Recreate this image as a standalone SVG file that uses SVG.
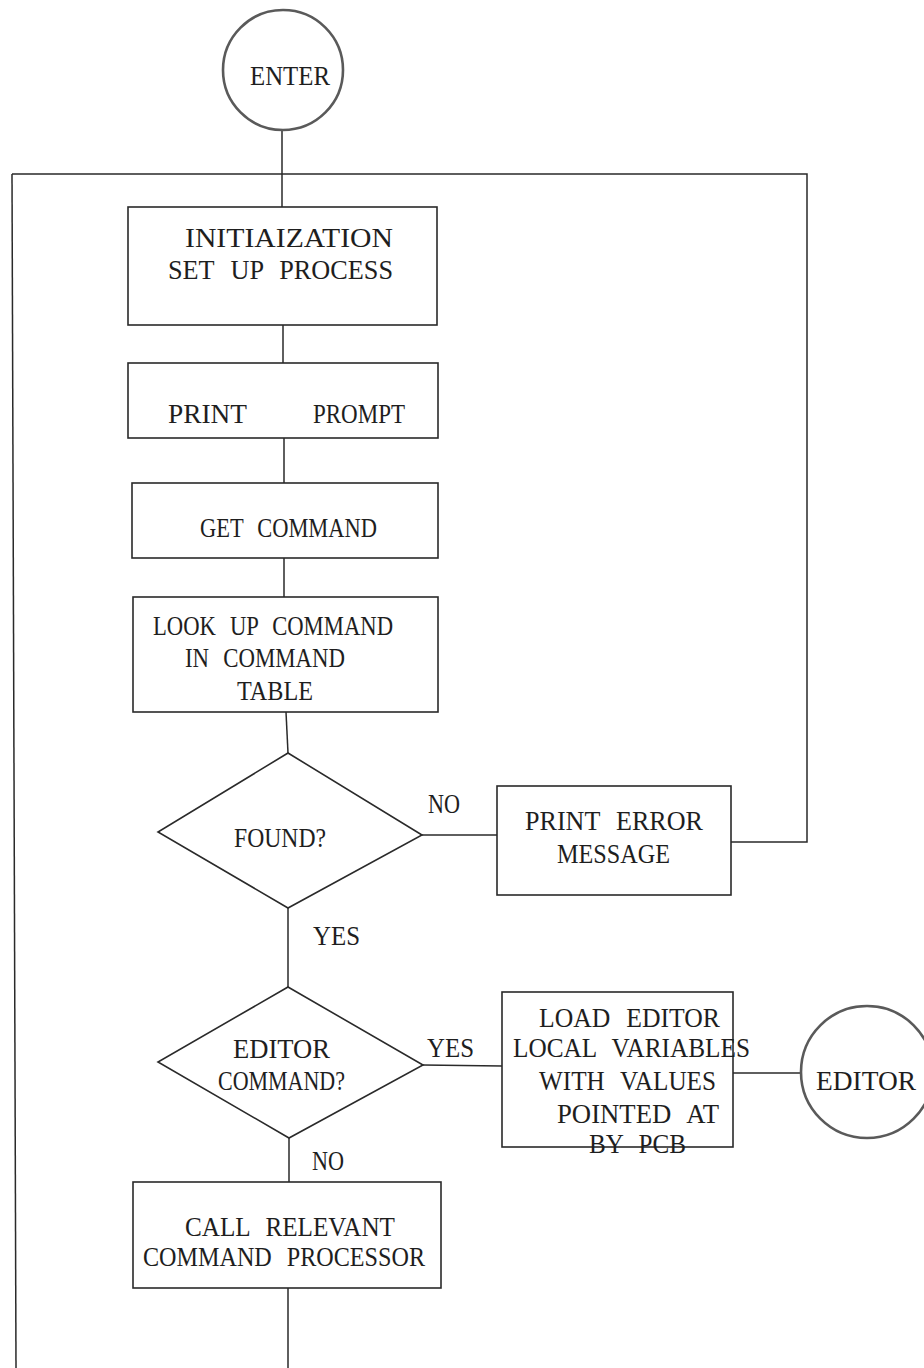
<svg xmlns="http://www.w3.org/2000/svg" width="924" height="1368" viewBox="0 0 924 1368">
<style>
.box{fill:none;stroke:#2a2a2a;stroke-width:1.6}
.term{fill:none;stroke:#5a5a5a;stroke-width:2.6}
.ln{fill:none;stroke:#2a2a2a;stroke-width:1.5}
text{font-family:"Liberation Serif","DejaVu Serif",serif;font-size:27px;word-spacing:10px;fill:#1e1e1e}
</style>
<rect width="924" height="1368" fill="#fff"/>
<g id="connectors">
<polyline class="ln" points="282,130 282,207"/>
<polyline class="ln" points="12,174 807,174 807,842 731,842"/>
<polyline class="ln" points="12,174 16,1368"/>
<polyline class="ln" points="283,325 283,363"/>
<polyline class="ln" points="284,438 284,483"/>
<polyline class="ln" points="284,558 284,597"/>
<polyline class="ln" points="286,712 288,753"/>
<polyline class="ln" points="422,835 497,835"/>
<polyline class="ln" points="288,908 288,987"/>
<polyline class="ln" points="423,1065 502,1066"/>
<polyline class="ln" points="733,1073 801,1073"/>
<polyline class="ln" points="289,1138 289,1182"/>
<polyline class="ln" points="288,1288 288,1368"/>
<text x="428" y="813" textLength="32" lengthAdjust="spacingAndGlyphs">NO</text>
<text x="313" y="945" textLength="47" lengthAdjust="spacingAndGlyphs">YES</text>
<text x="427" y="1057" textLength="47" lengthAdjust="spacingAndGlyphs">YES</text>
<text x="312" y="1170" textLength="32" lengthAdjust="spacingAndGlyphs">NO</text>
</g>
<g id="enter">
<circle class="term" cx="283" cy="70" r="60"/>
<text x="250" y="85" textLength="80" lengthAdjust="spacingAndGlyphs">ENTER</text>
</g>
<g id="init">
<rect class="box" x="128" y="207" width="309" height="118"/>
<text x="185" y="247" textLength="208" lengthAdjust="spacingAndGlyphs">INITIAIZATION</text>
<text x="168" y="279" textLength="225" lengthAdjust="spacingAndGlyphs">SET UP PROCESS</text>
</g>
<g id="prompt">
<rect class="box" x="128" y="363" width="310" height="75"/>
<text x="168" y="423" textLength="79" lengthAdjust="spacingAndGlyphs">PRINT</text>
<text x="313" y="423" textLength="92" lengthAdjust="spacingAndGlyphs">PROMPT</text>
</g>
<g id="getcmd">
<rect class="box" x="132" y="483" width="306" height="75"/>
<text x="200" y="537" textLength="177" lengthAdjust="spacingAndGlyphs">GET COMMAND</text>
</g>
<g id="lookup">
<rect class="box" x="133" y="597" width="305" height="115"/>
<text x="153" y="635" textLength="240" lengthAdjust="spacingAndGlyphs">LOOK UP COMMAND</text>
<text x="185" y="667" textLength="160" lengthAdjust="spacingAndGlyphs">IN COMMAND</text>
<text x="237" y="700" textLength="76" lengthAdjust="spacingAndGlyphs">TABLE</text>
</g>
<g id="found">
<polygon class="box" points="288,753 422,835 288,908 158,832"/>
<text x="234" y="847" textLength="92" lengthAdjust="spacingAndGlyphs">FOUND?</text>
</g>
<g id="error">
<rect class="box" x="497" y="786" width="234" height="109"/>
<text x="525" y="830" textLength="178" lengthAdjust="spacingAndGlyphs">PRINT ERROR</text>
<text x="557" y="863" textLength="113" lengthAdjust="spacingAndGlyphs">MESSAGE</text>
</g>
<g id="editorcmd">
<polygon class="box" points="288,987 423,1065 289,1138 158,1062"/>
<text x="233" y="1058" textLength="97" lengthAdjust="spacingAndGlyphs">EDITOR</text>
<text x="218" y="1090" textLength="127" lengthAdjust="spacingAndGlyphs">COMMAND?</text>
</g>
<g id="load">
<rect class="box" x="502" y="992" width="231" height="155"/>
<text x="539" y="1027" textLength="181" lengthAdjust="spacingAndGlyphs">LOAD EDITOR</text>
<text x="513" y="1057" textLength="237" lengthAdjust="spacingAndGlyphs">LOCAL VARIABLES</text>
<text x="539" y="1090" textLength="177" lengthAdjust="spacingAndGlyphs">WITH VALUES</text>
<text x="557" y="1123" textLength="162" lengthAdjust="spacingAndGlyphs">POINTED AT</text>
<text x="589" y="1153" textLength="97" lengthAdjust="spacingAndGlyphs">BY PCB</text>
</g>
<g id="editor">
<circle class="term" cx="867" cy="1072" r="66"/>
<text x="816" y="1090" textLength="100" lengthAdjust="spacingAndGlyphs">EDITOR</text>
</g>
<g id="call">
<rect class="box" x="133" y="1182" width="308" height="106"/>
<text x="185" y="1236" textLength="210" lengthAdjust="spacingAndGlyphs">CALL RELEVANT</text>
<text x="143" y="1266" textLength="282" lengthAdjust="spacingAndGlyphs">COMMAND PROCESSOR</text>
</g>
</svg>
